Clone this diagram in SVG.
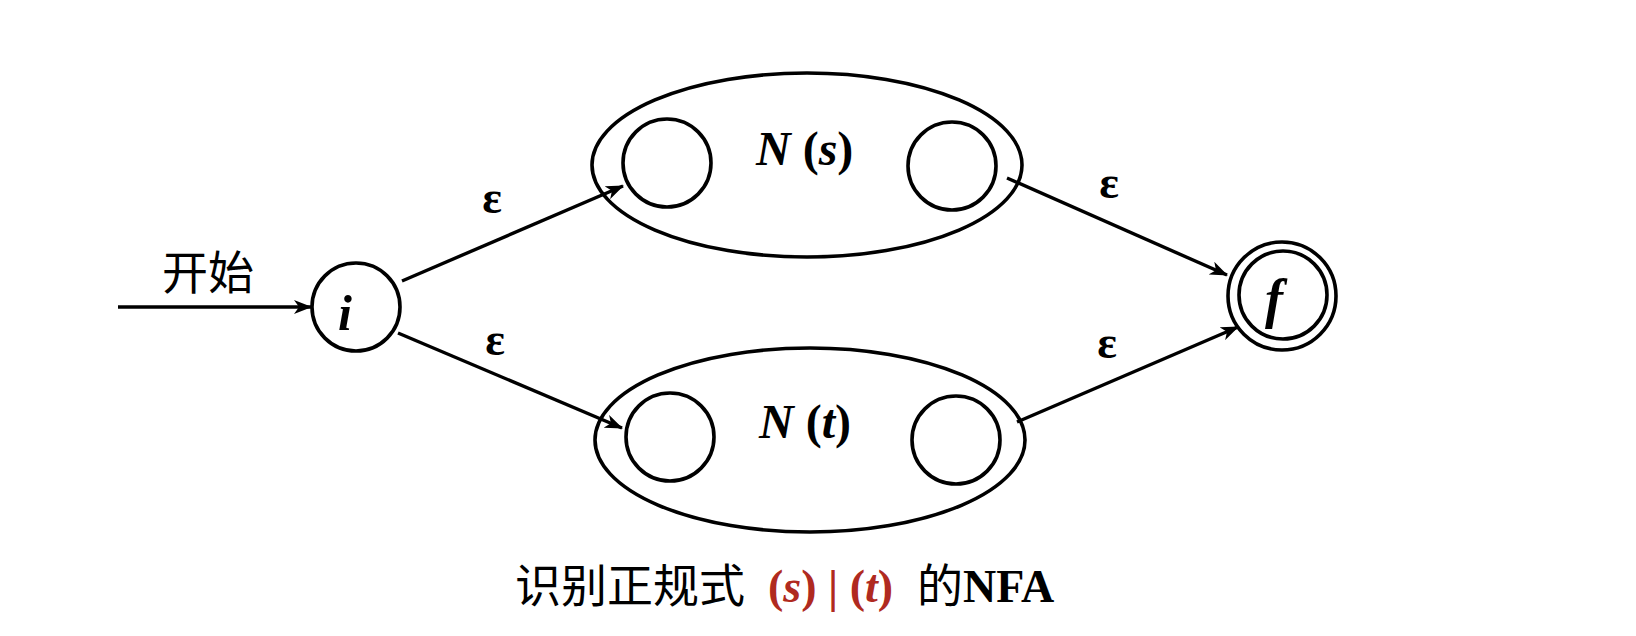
<svg xmlns="http://www.w3.org/2000/svg" width="1636" height="636" viewBox="0 0 1636 636">
<style>
.st{fill:none;stroke:#000;stroke-width:3.6}
.ln{fill:none;stroke:#000;stroke-width:3.4}
.cjk{font-family:"Liberation Serif","Noto Sans CJK SC",serif;fill:#000}
.ser{font-family:"Liberation Serif","Noto Sans CJK SC",serif;font-weight:bold;fill:#000}
.bi{font-style:italic}
.red{fill:#b02a20}
</style>
<defs>
<marker id="ah" markerWidth="18" markerHeight="14" refX="17" refY="7" orient="auto" markerUnits="userSpaceOnUse">
<path d="M0,0 L18,7 L0,14 L5,7 z" fill="#000"/>
</marker>
</defs>
<rect width="1636" height="636" fill="#fff"/>
<g id="connectors">
<line class="ln" x1="118" y1="307" x2="311" y2="307" marker-end="url(#ah)"/>
<line class="ln" x1="402" y1="281" x2="623" y2="186" marker-end="url(#ah)"/>
<line class="ln" x1="398" y1="333" x2="622" y2="428" marker-end="url(#ah)"/>
<line class="ln" x1="1007" y1="178" x2="1227" y2="275" marker-end="url(#ah)"/>
<line class="ln" x1="1017" y1="422" x2="1238" y2="327" marker-end="url(#ah)"/>
<text class="ser" x="492" y="213" font-size="46" text-anchor="middle">ε</text>
<text class="ser" x="495" y="355" font-size="46" text-anchor="middle">ε</text>
<text class="ser" x="1109" y="198" font-size="46" text-anchor="middle">ε</text>
<text class="ser" x="1107" y="358" font-size="46" text-anchor="middle">ε</text>
</g>
<g id="start-label">
<text class="cjk" x="162" y="289" font-size="46">开始</text>
</g>
<g id="node-i">
<circle class="st" cx="356" cy="307" r="44"/>
<text class="ser bi" x="345" y="330" font-size="50" text-anchor="middle">i</text>
</g>
<g id="node-Ns">
<ellipse class="st" cx="807" cy="165" rx="215" ry="92"/>
<circle class="st" cx="667" cy="163" r="44"/>
<circle class="st" cx="952" cy="166" r="44"/>
<text class="ser" x="756" y="165" font-size="48"><tspan class="bi">N</tspan> (<tspan class="bi">s</tspan>)</text>
</g>
<g id="node-Nt">
<ellipse class="st" cx="810" cy="440" rx="215" ry="92"/>
<circle class="st" cx="670" cy="437" r="44"/>
<circle class="st" cx="956" cy="440" r="44"/>
<text class="ser" x="759" y="438" font-size="48"><tspan class="bi">N</tspan> (<tspan class="bi">t</tspan>)</text>
</g>
<g id="node-f">
<circle class="st" cx="1282" cy="296" r="54"/>
<circle class="st" cx="1283" cy="295" r="44"/>
<text class="ser bi" x="1274" y="317" font-size="54" text-anchor="middle">f</text>
</g>
<g id="title">
<text class="cjk" x="515" y="602" font-size="46">识别正规式<tspan class="ser red" x="768">(<tspan class="bi">s</tspan>) | (<tspan class="bi">t</tspan>)</tspan><tspan x="917">的</tspan><tspan class="ser">NFA</tspan></text>
</g>
</svg>
